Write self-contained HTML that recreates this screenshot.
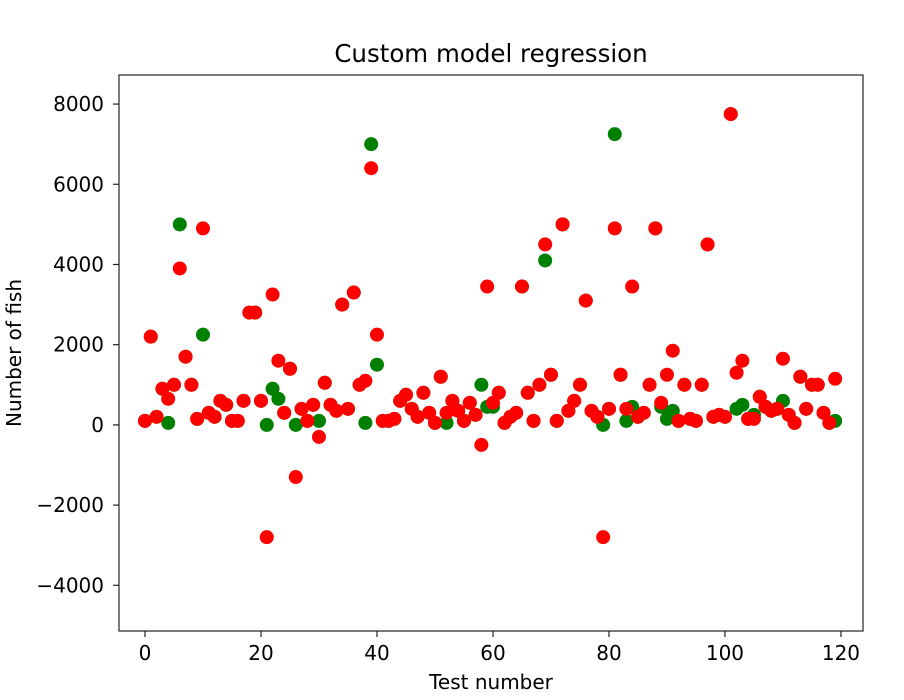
<!DOCTYPE html>
<html><head><meta charset="utf-8"><style>
body{margin:0;background:#fff;}
svg{display:block;font-family:"DejaVu Sans","Liberation Sans",sans-serif;}
</style></head><body>
<svg id="chart" width="904" height="700">
<rect width="904" height="700" fill="#fff"/>
<text x="491" y="62" font-size="24.5" text-anchor="middle" fill="#000">Custom model regression</text>
<g id="marks"></g>
<g id="axes"></g>
<text x="491" y="689" font-size="20" text-anchor="middle">Test number</text>
<text transform="translate(21,353) rotate(-90)" font-size="20" text-anchor="middle">Number of fish</text>
</svg>
<script>
const xTicks=[0,20,40,60,80,100,120];
const yTicks=[-4000,-2000,0,2000,4000,6000,8000];
const yTickLabels=["−4000","−2000","0","2000","4000","6000","8000"];
const greenOverrides={0:100,4:50,5:1000,6:5000,10:2250,14:500,21:0,22:900,23:650,26:0,29:500,30:100,33:350,37:1000,38:50,39:7000,40:1500,52:50,58:1000,59:450,60:450,68:1000,69:4100,77:350,79:0,81:7250,83:100,84:450,87:1000,89:450,90:150,91:350,93:1000,101:7750,102:400,103:500,105:250,110:600,115:1000,117:300,119:100};
const redValues=[100,2200,200,900,650,null,3900,1700,1000,150,4900,300,200,600,null,100,100,600,2800,2800,600,-2800,3250,1600,300,1400,-1300,400,100,null,-300,1050,500,null,3000,400,3300,null,1100,6400,2250,100,100,150,600,750,400,200,800,300,50,1200,300,600,350,100,550,250,-500,3450,550,800,50,200,300,3450,800,100,null,4500,1250,100,5000,350,600,1000,3100,null,200,-2800,400,4900,1250,400,3450,200,300,null,4900,550,1250,1850,100,null,150,100,1000,4500,200,250,200,7750,1300,1600,150,150,700,450,350,400,1650,250,50,1200,400,null,1000,null,50,1150];
const greenValues=redValues.map((v,i)=>greenOverrides[i]!==undefined?greenOverrides[i]:v);
const redFilled=redValues.map((v,i)=>v===null?greenValues[i]:v);

const L=119,R=863,T=75,B=631;
const xMin=-4.48,xMax=123.8,yMin=-5140,yMax=8725;
const sx=v=>L+(v-xMin)/(xMax-xMin)*(R-L);
const sy=v=>B-(v-yMin)/(yMax-yMin)*(B-T);
const NS="http://www.w3.org/2000/svg";
const marks=document.getElementById('marks'),axes=document.getElementById('axes');
function dot(i,v,c,nm){const e=document.createElementNS(NS,'circle');
e.setAttribute('cx',sx(i));e.setAttribute('cy',sy(v));e.setAttribute('r',7);e.setAttribute('fill',c);


marks.appendChild(e);}
greenValues.forEach((v,i)=>dot(i,v,'#008000','actual-point'));
redFilled.forEach((v,i)=>dot(i,v,'#ff0000','predicted-point'));
const fr=document.createElementNS(NS,'rect');
fr.setAttribute('x',L);fr.setAttribute('y',T);fr.setAttribute('width',R-L);fr.setAttribute('height',B-T);
fr.setAttribute('fill','none');fr.setAttribute('stroke','#222');fr.setAttribute('stroke-width','1.2');


axes.appendChild(fr);
function line(x1,y1,x2,y2){const l=document.createElementNS(NS,'line');
l.setAttribute('x1',x1);l.setAttribute('y1',y1);l.setAttribute('x2',x2);l.setAttribute('y2',y2);l.setAttribute('stroke','#222');l.setAttribute('stroke-width','1.2');


axes.appendChild(l);}
function txt(x,y,s,a,nm){const t=document.createElementNS(NS,'text');
t.setAttribute('x',x);t.setAttribute('y',y);t.setAttribute('font-size','20');t.setAttribute('text-anchor',a);t.textContent=s;


axes.appendChild(t);}
xTicks.forEach(v=>{const x=sx(v);line(x,B,x,B+6);txt(x,B+29,String(v),'middle','x-tick-label');});
yTicks.forEach((v,k)=>{const y=sy(v);line(L-6,y,L,y);txt(L-15,y+7,yTickLabels[k],'end','y-tick-label');});
</script>
</body></html>
